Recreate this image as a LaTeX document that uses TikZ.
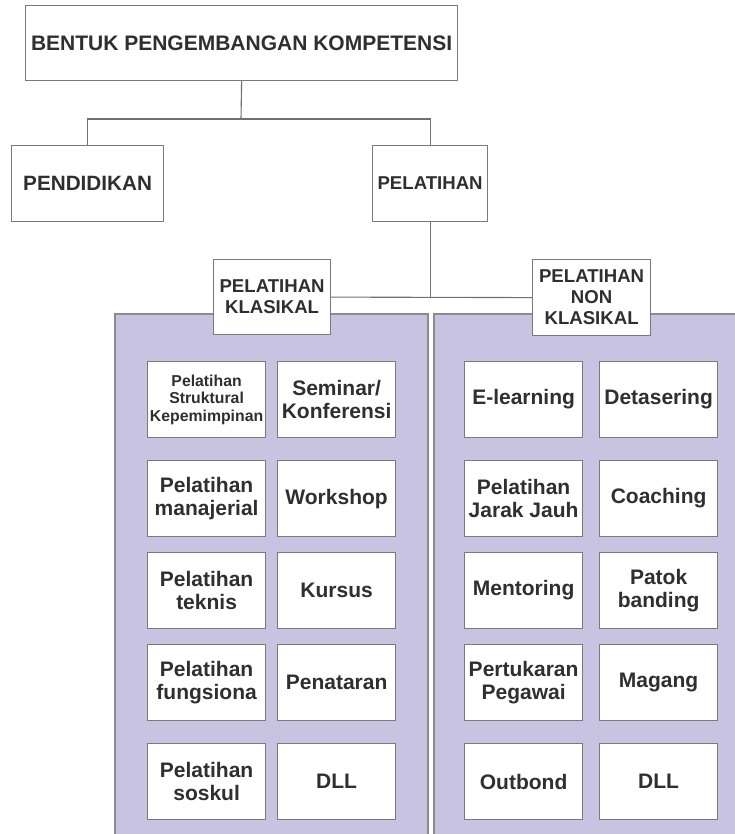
\documentclass[tikz,border=0pt]{standalone}
\usepackage{fontspec}
\setmainfont{Liberation Sans}
\definecolor{panelfill}{HTML}{C7C3E1}
\definecolor{panelline}{HTML}{8C8C8C}
\definecolor{boxline}{HTML}{7A7A7A}
\definecolor{txt}{HTML}{2F2F2F}
\definecolor{conn}{HTML}{707070}
\tikzset{
  box/.style={draw=boxline, fill=white, line width=1.2pt, inner sep=0pt, anchor=north west, align=center, text=txt, font=\bfseries},
  head/.style={box, font=\fontsize{20.7}{23}\selectfont\bfseries},
  sub/.style={box, font=\fontsize{18.6}{21}\selectfont\bfseries},
  item/.style={box, minimum width=118pt, minimum height=76pt, font=\fontsize{21}{23}\selectfont\bfseries},
  small/.style={box, minimum width=118pt, minimum height=76pt, font=\fontsize{15.8}{17.5}\selectfont\bfseries},
  panel/.style={draw=panelline, fill=panelfill, line width=1.2pt},
  link/.style={draw=conn, line width=1.1pt}
}
\begin{document}
\begin{tikzpicture}[x=1pt, y=-1pt]
\useasboundingbox (0,0) rectangle (734,834);
% panels
\draw[panel] (115,314) rectangle (428,850);
\draw[panel] (434,314) rectangle (750,850);
% top level
\node[head, minimum width=432pt, minimum height=75pt, font=\fontsize{21}{23}\selectfont\bfseries] (top) at (25,5) {BENTUK PENGEMBANGAN KOMPETENSI};
\node[head, minimum width=152pt, minimum height=76pt] (pend) at (11,145) {PENDIDIKAN};
\node[sub, minimum width=115pt, minimum height=76pt] (pel) at (372,145) {PELATIHAN};
\coordinate (j1) at (241,119);
\draw[link] (top.south) -- (j1);
\draw[link] (j1) -| (pend.north);
\draw[link] (j1) -| (pel.north);
% second level
\node[sub, minimum width=117pt, minimum height=75pt] (klas) at (213,259) {PELATIHAN\\KLASIKAL};
\node[sub, minimum width=118pt, minimum height=76pt] (nonklas) at (532,259) {PELATIHAN\\NON\\KLASIKAL};
\coordinate (j2) at (pel.south |- klas.east);
\draw[link] (pel.south) -- (j2);
\draw[link] (klas.east) -- (nonklas.west);
% left panel items
\node[small] (a1) at (147,361) {Pelatihan\\Struktural\\Kepemimpinan};
\node[item] (b1) at (277,361) {Seminar/\\Konferensi};
\node[item] (a2) at (147,460) {Pelatihan\\manajerial};
\node[item] (b2) at (277,460) {Workshop};
\node[item] (a3) at (147,552) {Pelatihan\\teknis};
\node[item] (b3) at (277,552) {Kursus};
\node[item] (a4) at (147,644) {Pelatihan\\fungsiona};
\node[item] (b4) at (277,644) {Penataran};
\node[item] (a5) at (147,743) {Pelatihan\\soskul};
\node[item] (b5) at (277,743) {DLL};
% right panel items
\node[item] (c1) at (464,361) {E-learning};
\node[item] (d1) at (599,361) {Detasering};
\node[item] (c2) at (464,460) {Pelatihan\\Jarak Jauh};
\node[item] (d2) at (599,460) {Coaching};
\node[item] (c3) at (464,552) {Mentoring};
\node[item] (d3) at (599,552) {Patok\\banding};
\node[item] (c4) at (464,644) {Pertukaran\\Pegawai};
\node[item] (d4) at (599,644) {Magang};
\node[item] (c5) at (464,743) {Outbond};
\node[item] (d5) at (599,743) {DLL};
\end{tikzpicture}
\end{document}
